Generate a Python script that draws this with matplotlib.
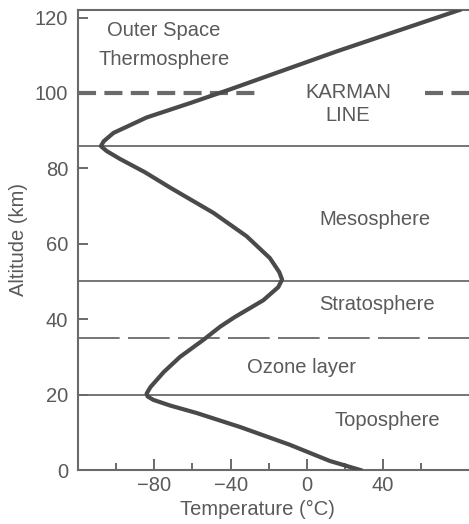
import matplotlib
matplotlib.use('Agg')
import matplotlib.pyplot as plt

# temperature profile
alt_km = [0, 2.4, 6.7, 11.4, 15.1, 17.1, 18.6, 19.5, 20.3, 22, 26, 30, 34.5,
          38, 40.5, 45, 48.5, 50.5, 52.5, 56.2, 62, 68.2, 74.9, 79, 82.5,
          84.6, 85.9, 87.2, 89.4, 93.5, 97.3, 101, 111, 122]
temp_c = [28, 12, -9, -35, -57.7, -71.7, -80.5, -83.5, -84, -82, -75, -66.5, -54.3,
          -45.5, -38, -22.9, -15, -13, -14.5, -19.4, -31.6, -49, -71.7, -85, -98,
          -105, -108, -106.5, -101.4, -84, -61.3, -40, 15.5, 80]

boundaries = [20, 50, 86]   # solid lines
ozone_top = 35              # dashed line
karman_alt = 100            # thick dashed line

labels = ['Outer Space', 'Thermosphere', 'KARMAN', 'LINE', 'Mesosphere',
          'Stratosphere', 'Ozone layer', 'Toposphere']
label_t = [-75, -75, 21.5, 21.5, 35.6, 37, -2.6, 42.4]
label_alt = [116.5, 108.8, 100.2, 93.9, 66.4, 43.8, 27.3, 13.1]

plt.rcParams['font.family'] = ['Liberation Sans', 'DejaVu Sans']
plt.rcParams['lines.scale_dashes'] = False

grey = '#6a6a6a'
tgrey = '#5a5a5a'

fig = plt.figure(figsize=(4.69, 5.24), dpi=100)
ax = fig.add_axes([78/469, 54/524, 391/469, 460/524])

ax.plot(temp_c, alt_km, color='#4a4a4a', lw=3, solid_joinstyle='round', zorder=3)

for a in boundaries:
    ax.axhline(a, color=grey, lw=1.3)
ax.axhline(ozone_top, color=grey, lw=1.3, dashes=(30, 6))
ax.axhline(karman_alt, xmin=0, xmax=0.46, color=grey, lw=3, dashes=(13, 6))
ax.axhline(karman_alt, xmin=0.888, xmax=1, color=grey, lw=3, dashes=(13, 6))

for s, t, a in zip(labels, label_t, label_alt):
    ax.text(t, a, s, ha='center', va='center', fontsize=14.5, color=tgrey)

ax.set_xlim(-120, 85)
ax.set_ylim(0, 122)
ax.set_xticks([-80, -40, 0, 40])
ax.set_xticks([-100, -60, -20, 20, 60], minor=True)
ax.set_yticks(range(0, 121, 20))
ax.set_xticklabels(['\u221280', '\u221240', '0', '40'])

ax.tick_params(which='both', direction='in', color=grey, width=1.4,
               labelcolor=tgrey, labelsize=14.5)
ax.tick_params(axis='x', which='major', length=8, pad=4)
ax.tick_params(axis='x', which='minor', length=5)
ax.tick_params(axis='y', length=7, pad=7)

for side in ['left', 'bottom', 'top']:
    ax.spines[side].set_color(grey)
    ax.spines[side].set_linewidth(1.5)
ax.spines['right'].set_visible(False)

ax.set_xlabel('Temperature (\u00b0C)', fontsize=14.5, color=tgrey)
ax.set_ylabel('Altitude (km)', fontsize=14.5, color=tgrey)
ax.xaxis.set_label_coords(0.46, -0.065)
ax.yaxis.set_label_coords(-0.128, 0.5)

fig.savefig('out.png', dpi=100, facecolor='white')
